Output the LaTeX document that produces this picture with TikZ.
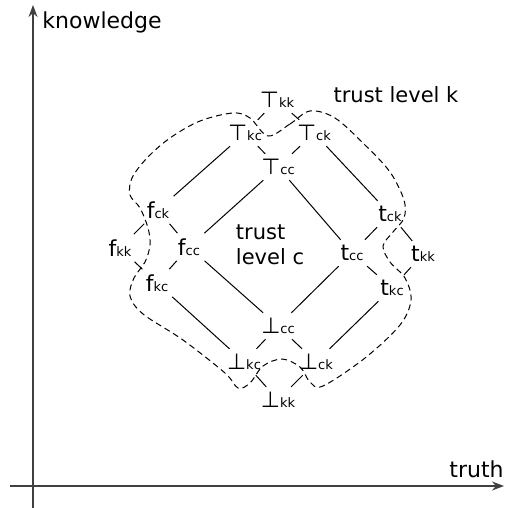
\documentclass[tikz,border=0pt]{standalone}
\usepackage{fontspec}
\setmainfont{DejaVu Sans}
\usetikzlibrary{arrows.meta}

\newcommand{\lsub}[1]{{\fontsize{6.5}{7}\selectfont #1}}

\begin{document}
\begin{tikzpicture}[x=0.5pt, y=-0.5pt,
        lbl/.style ={font=\fontsize{11}{12.5}\selectfont, inner sep=2.5pt},
        txt/.style ={font=\fontsize{10.5}{12.5}\selectfont, inner sep=1pt},
        edge/.style={line width=0.5pt},
        axis/.style={-{Stealth[length=6pt,width=4.5pt]}, line width=0.75pt, black!75}]
    \useasboundingbox (0,0) rectangle (504,508);

    %--- Axes ---
    \coordinate (O1) at (33,508);
    \coordinate (O2) at (33,5);
    \coordinate (O3) at (10,486);
    \coordinate (O4) at (504,486);
    \draw[axis] (O1) -- (O2);
    \draw[axis] (O3) -- (O4);
    \node[anchor=base west, inner sep=0pt, font=\fontsize{11}{13}\selectfont] (know) at (42,29) {knowledge};
    \node[anchor=base east, inner sep=0pt, font=\fontsize{11}{13}\selectfont] (truth) at (504,477) {truth};

    %--- Nodes ---
    \node[lbl] (Tkk) at (277,100) {⊤\lsub{kk}};
    \node[lbl] (Tkc) at (245,133) {⊤\lsub{kc}};
    \node[lbl] (Tck) at (314,133) {⊤\lsub{ck}};
    \node[lbl] (Tcc) at (278,167) {⊤\lsub{cc}};

    \node[lbl] (fck) at (158,210) {f\lsub{ck}};
    \node[lbl] (fkk) at (120,248) {f\lsub{kk}};
    \node[lbl] (fcc) at (189,247) {f\lsub{cc}};
    \node[lbl] (fkc) at (157,283) {f\lsub{kc}};

    \node[lbl] (tck) at (390,214) {t\lsub{ck}};
    \node[lbl] (tcc) at (352,253) {t\lsub{cc}};
    \node[lbl] (tkk) at (423,254) {t\lsub{kk}};
    \node[lbl] (tkc) at (392,288) {t\lsub{kc}};

    \node[lbl] (Bcc) at (278,326) {⊥\lsub{cc}};
    \node[lbl] (Bkc) at (244,362) {⊥\lsub{kc}};
    \node[lbl] (Bck) at (316,362) {⊥\lsub{ck}};
    \node[lbl] (Bkk) at (278,400) {⊥\lsub{kk}};

    \node[txt, align=left] (levc) at (270,245) {trust\\level c};
    \node[txt] (levk) at (396,95) {trust level k};

    %--- Lattice edges ---
    \draw[edge] (Tkk) -- (Tkc);
    \draw[edge] (Tkk) -- (Tck);
    \draw[edge] (Tkc) -- (Tcc);
    \draw[edge] (Tck) -- (Tcc);
    \draw[edge] (Tkc) -- (fck);
    \draw[edge] (Tck) -- (tck);
    \draw[edge] (Tcc) -- (fcc);
    \draw[edge] (Tcc) -- (tcc);

    \draw[edge] (fck) -- (fkk);
    \draw[edge] (fck) -- (fcc);
    \draw[edge] (fkk) -- (fkc);
    \draw[edge] (fcc) -- (fkc);
    \draw[edge] (fkc) -- (Bkc);
    \draw[edge] (fcc) -- (Bcc);

    \draw[edge] (tck) -- (tkk);
    \draw[edge] (tck) -- (tcc);
    \draw[edge] (tcc) -- (tkc);
    \draw[edge] (tkk) -- (tkc);
    \draw[edge] (tcc) -- (Bcc);
    \draw[edge] (tkc) -- (Bck);

    \draw[edge] (Bcc) -- (Bkc);
    \draw[edge] (Bcc) -- (Bck);
    \draw[edge] (Bkc) -- (Bkk);
    \draw[edge] (Bck) -- (Bkk);

    %--- Trust level k boundary ---
    \draw[edge, dashed, dash pattern=on 3pt off 2pt] plot[smooth cycle, tension=0.55] coordinates {
        (268,136) (290,124) (310,111) (335,118) (365,145) (390,172)
        (404,200) (404,218) (393,232) (383,246) (390,262) (405,278)
        (411,300) (400,325) (365,358) (323,386) (310,382) (300,367)
        (282,359) (263,366) (250,383) (238,388) (225,373) (183,340)
        (143,314) (130,296) (134,278) (145,262) (150,245) (148,228)
        (140,208) (130,195) (132,178) (147,158) (170,138) (200,121)
        (233,113) (250,118)};
\end{tikzpicture}
\end{document}
